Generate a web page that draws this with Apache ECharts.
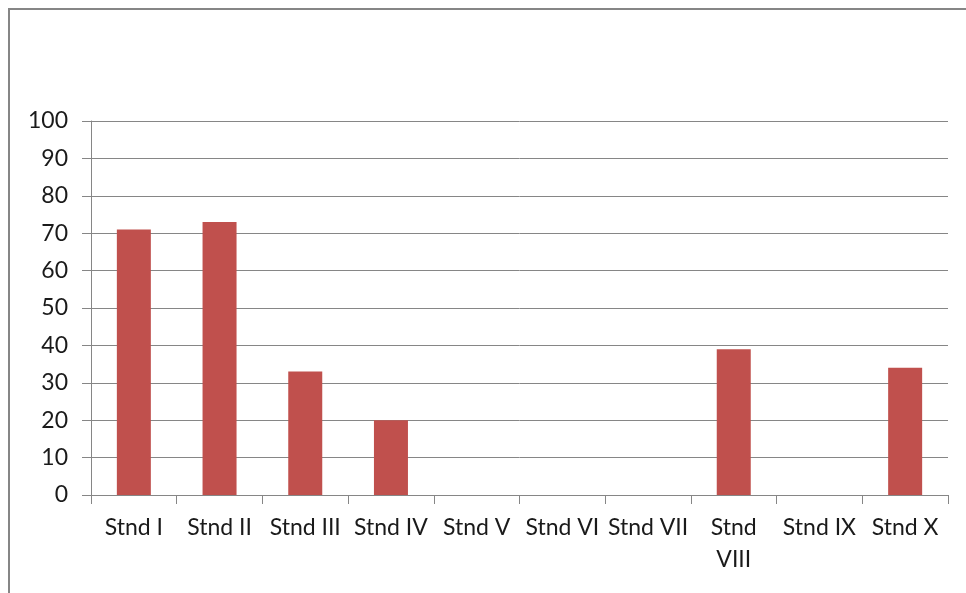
<!DOCTYPE html>
<html>
<head>
<meta charset="utf-8">
<script src="https://cdn.jsdelivr.net/npm/echarts@6/dist/echarts.min.js"></script>
<style>
  html, body { margin: 0; padding: 0; background: #ffffff; }
  #chart { width: 966px; height: 593px; }
</style>
</head>
<body>
<div id="chart"></div>
<script>
// Standards on the category axis
const categories = ['Stnd I', 'Stnd II', 'Stnd III', 'Stnd IV', 'Stnd V',
  'Stnd VI', 'Stnd VII', 'Stnd VIII', 'Stnd IX', 'Stnd X'];
// Value per standard (empty standards have no bar)
const values = [71, 73, 33, 20, 0, 0, 0, 39, 0, 34];
// Value axis range and step
const yMin = 0;
const yMax = 100;
const yStep = 10;

const gray = '#868686';
const textColor = '#1a1a1a';
const fontFamily = 'Lato, "Open Sans", sans-serif';

const chart = echarts.init(document.getElementById('chart'), null, { renderer: 'canvas' });

chart.setOption({
  backgroundColor: '#ffffff',
  animation: false,
  graphic: [{
    type: 'rect',
    shape: { x: 9, y: 9, width: 1000, height: 700 },
    style: { fill: 'transparent', stroke: gray, lineWidth: 2 },
    silent: true
  }],
  grid: { left: 91, right: 18, top: 121, bottom: 98, containLabel: false },
  xAxis: {
    type: 'category',
    data: categories,
    axisLine: { show: true, lineStyle: { color: gray, width: 1 } },
    axisTick: { show: true, alignWithLabel: false, length: 9, lineStyle: { color: gray } },
    axisLabel: {
      color: textColor,
      fontFamily: fontFamily,
      fontSize: 23,
      margin: 17,
      lineHeight: 32,
      interval: 0,
      // long names wrap onto a second line
      formatter: (name) => name.length > 8 ? name.replace(' ', '\n') : name
    }
  },
  yAxis: {
    type: 'value',
    min: yMin,
    max: yMax,
    interval: yStep,
    axisLine: { show: true, lineStyle: { color: gray, width: 1 } },
    axisTick: { show: true, length: 9, lineStyle: { color: gray } },
    splitLine: { show: true, lineStyle: { color: gray, width: 1 } },
    axisLabel: {
      color: textColor,
      fontFamily: fontFamily,
      fontSize: 23,
      margin: 23
    }
  },
  series: [{
    type: 'bar',
    data: values,
    barWidth: 34,
    itemStyle: { color: '#C0504D' }
  }]
});
</script>
</body>
</html>
